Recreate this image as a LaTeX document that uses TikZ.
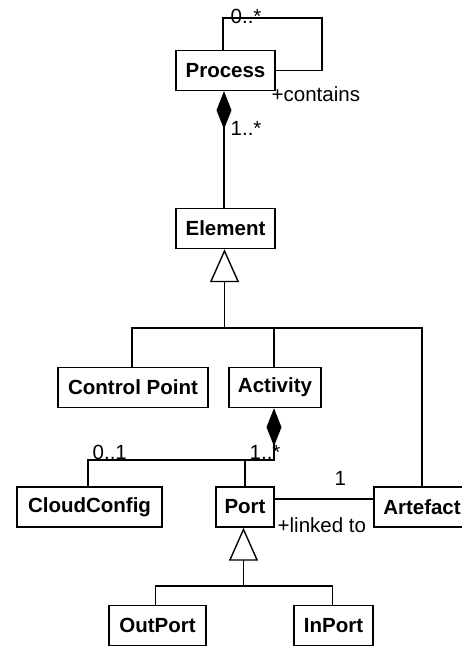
\documentclass[tikz,border=0pt]{standalone}
\usepackage{fontspec}
\setmainfont{Liberation Sans}
\usepackage{tikz}
\usetikzlibrary{arrows.meta,calc}

\tikzset{
  umlbox/.style={draw, fill=white, line width=1.4pt, minimum height=40pt, inner sep=0pt, font=\fontsize{20.5}{24}\selectfont\bfseries},
  mult/.style={anchor=base west, inner sep=0pt, font=\fontsize{20.5}{24}\selectfont},
  comp/.style={{Diamond[length=38pt,width=15pt]}-},
  inherit/.style={-{Triangle[open,length=33pt,width=29pt,line width=1.4pt]}}
}

\begin{document}
\begin{tikzpicture}[x=1pt,y=-1pt,line width=1.4pt]
\clip (0,0) rectangle (462,646);
\fill[white] (0,0) rectangle (462,646);

\node[umlbox, minimum width=99pt] (process) at (225.5,70.5) {Process};
\node[umlbox, minimum width=99pt] (element) at (225.5,228.5) {Element};
\node[umlbox, minimum width=150pt] (control) at (133,387.5) {Control Point};
\node[umlbox, minimum width=92pt] (activity) at (275,387.5) {Activity};
\node[umlbox, minimum width=145pt] (cloud) at (89.5,507) {CloudConfig};
\node[umlbox, minimum width=58pt] (port) at (245,507) {Port};
\node[umlbox, minimum width=96pt] (artefact) at (422,507) {Artefact};
\node[umlbox, minimum width=97pt] (outport) at (157.5,625.5) {OutPort};
\node[umlbox, minimum width=79pt] (inport) at (333.5,625.5) {InPort};

\coordinate (loop) at (322,18);
\coordinate (ebus) at (224.5,328);
\coordinate (cbus) at (274,460);
\coordinate (pbus) at (243.5,586);

% process contains process
\draw ([xshift=-2.5pt]process.north) |- (loop) |- (process.east);
\node[mult] (pzero) at (230,23) {0..*};
\node[mult] (pcont) at (271,101) {+contains};

% process contains elements
\draw[comp] ([xshift=-1.5pt]process.south) -- ([xshift=-1.5pt]element.north);
\node[mult] (pone) at (230,135) {1..*};

% element specialisations
\draw[inherit] (ebus) -- (ebus |- element.south);
\draw (control.north -| 132,0) |- (ebus) -| (artefact.north);
\draw (activity.north -| ebus -| 274,0) -- (ebus -| 274,0);

% activity ports and cloud config
\draw[comp] (activity.south -| cbus) -- (cbus) -| (cloud.north -| 88,0);
\draw (port.north) -- (port.north |- cbus);
\node[mult] (czero) at (92,459) {0..1};
\node[mult] (cone) at (249,459) {1..*};

% port linked to artefact
\draw ([yshift=8pt]port.east) -- ([yshift=8pt]port.east -| artefact.west);
\node[mult] (lone) at (334,485) {1};
\node[mult] (llink) at (277,532) {+linked to};

% port specialisations
\draw[inherit] (pbus) -- (pbus |- port.south);
\draw (outport.north -| 155.5,0) |- (pbus) -| (inport.north -| 332.5,0);
\end{tikzpicture}
\end{document}
